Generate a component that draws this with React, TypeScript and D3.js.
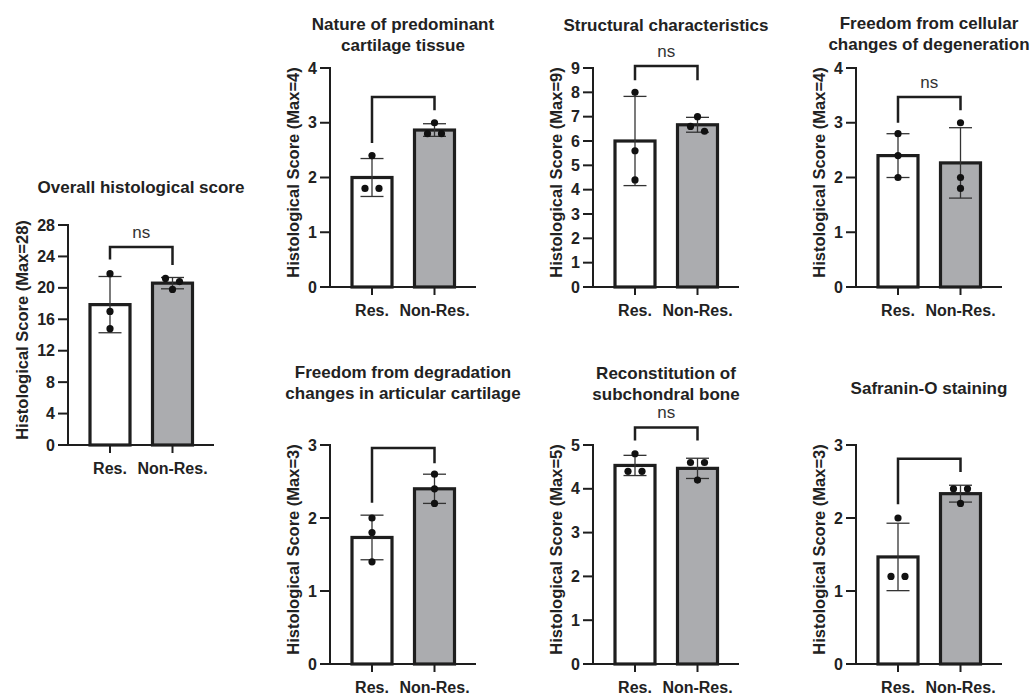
import React from 'react';
import * as d3 from 'd3';

// groups and per-panel data
const groups = ['Res.', 'Non-Res.'];

const titles = [
  ['Overall histological score'],
  ['Nature of predominant', 'cartilage tissue'],
  ['Structural characteristics'],
  ['Freedom from cellular', 'changes of degeneration'],
  ['Freedom from degradation', 'changes in articular cartilage'],
  ['Reconstitution of', 'subchondral bone'],
  ['Safranin-O staining'],
];

const yMax = [28, 4, 9, 4, 3, 5, 3];
const yStep = [4, 1, 1, 1, 1, 1, 1];

// individual scores, one array of 3 per panel
const resPoints = [
  [21.8, 17, 14.8],
  [2.4, 1.8, 1.8],
  [8, 5.6, 4.4],
  [2.8, 2.4, 2.0],
  [2.0, 1.8, 1.4],
  [4.8, 4.4, 4.4],
  [2.0, 1.2, 1.2],
];
const nonResPoints = [
  [21.2, 20.8, 19.8],
  [3.0, 2.8, 2.8],
  [7.0, 6.6, 6.4],
  [3.0, 2.0, 1.8],
  [2.6, 2.4, 2.2],
  [4.6, 4.6, 4.2],
  [2.4, 2.4, 2.2],
];

// comparison brackets (data units)
const bracketTop = [25.2, 3.47, 9.08, 3.47, 2.96, 5.4, 2.81];
const bracketResEnd = [23.6, 2.63, 8.5, 3.0, 2.21, 5.1, 2.19];
const bracketNonResEnd = [22.9, 3.23, 8.5, 3.23, 2.75, 5.1, 2.63];
const sigLabels = ['ns', '', 'ns', 'ns', '', 'ns', ''];

// layout (pixels)
const layout = [
  { ax: 68, top: 225, bot: 445, titleY: 187 },
  { ax: 330, top: 68, bot: 287, titleY: 24 },
  { ax: 593, top: 68, bot: 287, titleY: 25 },
  { ax: 856, top: 68, bot: 287, titleY: 23 },
  { ax: 330, top: 445, bot: 664, titleY: 372 },
  { ax: 593, top: 445, bot: 664, titleY: 373 },
  { ax: 856, top: 445, bot: 664, titleY: 388 },
];

const FONT = "'Liberation Sans', Arial, Helvetica, sans-serif";
const INK = '#1e1e1e';
const fills = ['#ffffff', '#abacaf'];

// spread overlapping dots sideways like a scatter plot
function dotOffsets(vals: number[], y: d3.ScaleLinear<number, number>) {
  const offs = vals.map(() => 0);
  const used = vals.map(() => false);
  vals.forEach((v, i) => {
    if (used[i]) return;
    const cluster = [i];
    vals.forEach((w, j) => {
      if (j !== i && !used[j] && Math.abs(y(v) - y(w)) < 6) cluster.push(j);
    });
    if (cluster.length > 1) {
      cluster.forEach((k, n) => {
        used[k] = true;
        offs[k] = (n - (cluster.length - 1) / 2) * 14;
      });
    }
  });
  return offs;
}

const Panel = ({ i }: { i: number }) => {
  const L = layout[i];
  const y = d3.scaleLinear().domain([0, yMax[i]]).range([L.bot, L.top]);
  const x = d3.scalePoint<string>().domain(groups).range([L.ax + 42, L.ax + 104.5]);
  const ticks = d3.range(0, yMax[i] + 0.001, yStep[i]);
  const barW = 40;
  const sets = [resPoints[i], nonResPoints[i]];
  const labelOffset = yMax[i] >= 10 ? 46 : 37;
  const midY = (L.top + L.bot) / 2 - 5;
  const xr = x(groups[0])!;
  const xn = x(groups[1])!;

  return (
    <g>
      {titles[i].map((t, k) => (
        <text key={k} x={L.ax + 73} y={L.titleY + k * 21.5} textAnchor="middle" dominantBaseline="central"
          fontSize={17} fontWeight="bold" fill="#222">{t}</text>
      ))}
      <text transform={`translate(${L.ax - labelOffset},${midY}) rotate(-90)`} textAnchor="middle"
        dominantBaseline="central" fontSize={16.5} fontWeight="bold" fill="#222">
        {`Histological Score (Max=${yMax[i]})`}
      </text>
      {/* y axis */}
      <line x1={L.ax} x2={L.ax} y1={L.bot} y2={L.top - 1} stroke={INK} strokeWidth={2} />
      {ticks.map(t => (
        <g key={t}>
          <line x1={L.ax - 10} x2={L.ax} y1={y(t)} y2={y(t)} stroke={INK} strokeWidth={2} />
          <text x={L.ax - 13} y={y(t)} textAnchor="end" dominantBaseline="central" fontSize={16}
            fontWeight="bold" fill="#222">{t}</text>
        </g>
      ))}
      {/* x axis */}
      <line x1={L.ax - 1} x2={L.ax + 146} y1={L.bot} y2={L.bot} stroke={INK} strokeWidth={2} />
      {groups.map(g => (
        <g key={g}>
          <line x1={x(g)} x2={x(g)} y1={L.bot} y2={L.bot + 8} stroke={INK} strokeWidth={2} />
          <text x={x(g)} y={L.bot + 23} textAnchor="middle" dominantBaseline="central" fontSize={16}
            fontWeight="bold" fill="#222">{g}</text>
        </g>
      ))}
      {/* bars, error bars, dots */}
      {groups.map((g, gi) => {
        const vals = sets[gi];
        const m = d3.mean(vals)!;
        const sd = d3.deviation(vals)!;
        const cx = x(g)!;
        const offs = dotOffsets(vals, y);
        return (
          <g key={g}>
            <rect x={cx - barW / 2} y={y(m)} width={barW} height={L.bot - y(m)} fill={fills[gi]}
              stroke={INK} strokeWidth={3.2} />
            <line x1={cx} x2={cx} y1={y(m - sd)} y2={y(m + sd)} stroke="#333" strokeWidth={1.3} />
            <line x1={cx - 11.5} x2={cx + 11.5} y1={y(m + sd)} y2={y(m + sd)} stroke="#333" strokeWidth={1.3} />
            <line x1={cx - 11.5} x2={cx + 11.5} y1={y(m - sd)} y2={y(m - sd)} stroke="#333" strokeWidth={1.3} />
            {vals.map((v, k) => (
              <circle key={k} cx={cx + offs[k]} cy={y(v)} r={3.6} fill="#111" />
            ))}
          </g>
        );
      })}
      {/* bracket */}
      <path
        d={`M${xr},${y(bracketResEnd[i])}V${y(bracketTop[i])}H${xn}V${y(bracketNonResEnd[i])}`}
        fill="none" stroke={INK} strokeWidth={2.5} />
      {sigLabels[i] && (
        <text x={(xr + xn) / 2} y={y(bracketTop[i]) - 15} textAnchor="middle" dominantBaseline="central"
          fontSize={17} fill="#333">{sigLabels[i]}</text>
      )}
    </g>
  );
};

export default function App() {
  return (
    <svg width={1033} height={695} style={{ position: 'absolute', left: 0, top: 0, background: '#fff' }}
      fontFamily={FONT}>
      <rect width={1033} height={695} fill="#fff" />
      {layout.map((_, i) => <Panel key={i} i={i} />)}
    </svg>
  );
}
